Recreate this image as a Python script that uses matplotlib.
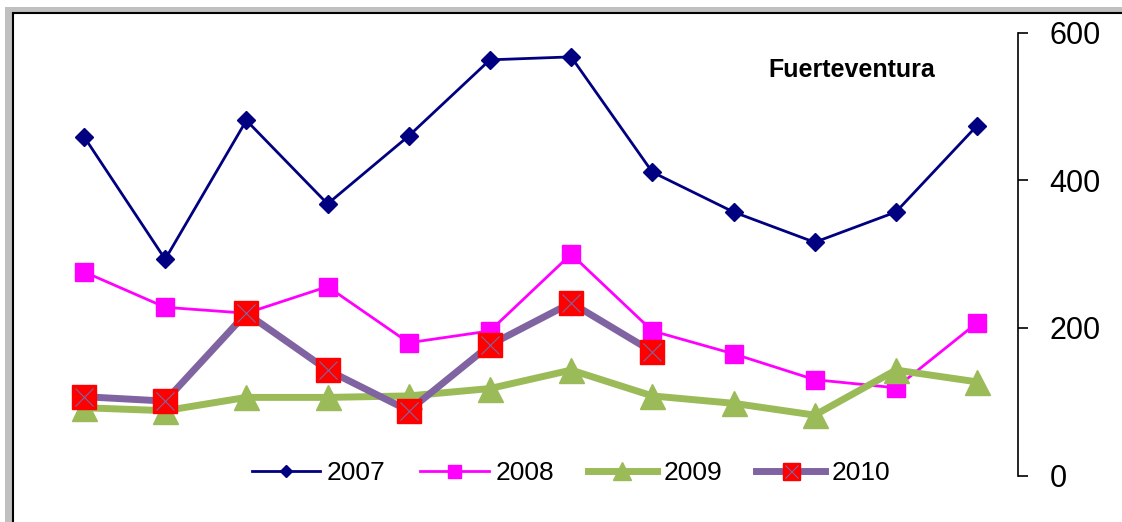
import numpy as np
import matplotlib
matplotlib.use("Agg")
import matplotlib.pyplot as plt
from matplotlib.patches import Rectangle

plt.rcParams['font.family'] = ['Liberation Sans', 'DejaVu Sans']

# monthly values
months = np.arange(12)
y2007 = [459, 293, 481, 368, 460, 563, 567, 411, 357, 316, 357, 474]
y2008 = [276, 228, 220, 256, 180, 196, 300, 196, 165, 130, 119, 207]
y2009 = [92, 88, 106, 106, 108, 118, 143, 108, 98, 82, 143, 127]
y2010 = [107, 101, 220, 143, 88, 177, 234, 168]
yticks = [0, 200, 400, 600]

W, H = 1122, 522
fig = plt.figure(figsize=(W / 100, H / 100), dpi=100)

# grey outer border and black inner frame
fig.patches.append(Rectangle((5 / W, -0.1), 2, (H - 7) / H + 0.1,
                             transform=fig.transFigure, facecolor='#c0c0c0',
                             edgecolor='none', zorder=-10))
fig.patches.append(Rectangle((12.5 / W, -0.1), 2, (H - 13) / H + 0.1,
                             transform=fig.transFigure, facecolor='white',
                             edgecolor='black', lw=1.5, zorder=-9))

ax = fig.add_axes([43.4 / W, 1 - 475.7 / H, (1017.7 - 43.4) / W, (475.7 - 32.5) / H])
ax.set_facecolor('none')

l7, = ax.plot(months, y2007, color='#000080', lw=2, marker='D', ms=9, label='2007')
l8, = ax.plot(months, y2008, color='#ff00ff', lw=2, marker='s', ms=13, label='2008')
l9, = ax.plot(months, y2009, color='#9bbb59', lw=5, marker='^', ms=18, label='2009')
l10, = ax.plot(months[:len(y2010)], y2010, color='#8064a2', lw=5, marker='s', ms=17,
               mfc='red', mec='red', label='2010')
x10, = ax.plot(months[:len(y2010)], y2010, ls='none', marker='x', ms=13,
               mec='#8064a2', mew=0.8)

ax.set_xlim(-0.5, 11.5)
ax.set_ylim(0, 600)
ax.set_yticks(yticks)
ax.yaxis.tick_right()
ax.tick_params(axis='y', direction='out', length=7, width=1.2, pad=16, labelsize=22)
ax.set_xticks([])
for s in ['left', 'top', 'bottom']:
    ax.spines[s].set_visible(False)
ax.spines['right'].set_linewidth(1.2)

ax.text(0.83, 0.915, 'Fuerteventura', transform=ax.transAxes, ha='center',
        va='center', fontsize=18, fontweight='bold')

ax.legend([l7, l8, l9, (l10, x10)], ['2007', '2008', '2009', '2010'],
          loc='center', bbox_to_anchor=(0.5415, 0.006), ncol=4, frameon=False,
          fontsize=19, handlelength=2.6, columnspacing=1.3, handletextpad=0.25,
          markerscale=0.72)

fig.savefig('out.png', dpi=100)
